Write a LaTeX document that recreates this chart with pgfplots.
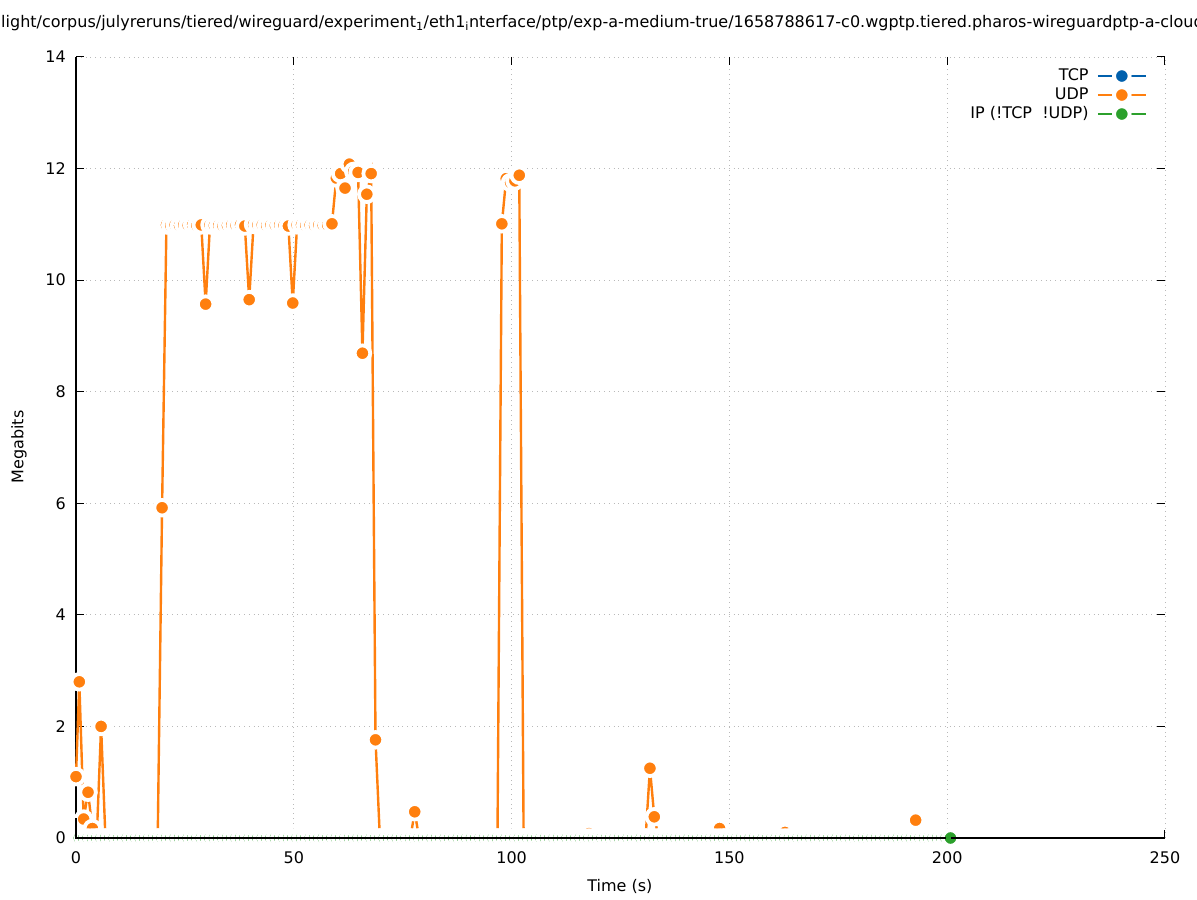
\documentclass[border=0pt]{standalone}
\usepackage{pgfplots}
\pgfplotsset{compat=1.18}
\usepackage{fontspec}
\setmainfont{DejaVu Sans}
\newcommand\gfont{\fontsize{16bp}{19bp}\selectfont}
\definecolor{tcpblue}{HTML}{0060AD}
\definecolor{udporange}{HTML}{FF7F0E}
\definecolor{ipgreen}{HTML}{2CA02C}
\pgfplotsset{ser/.style={line width=2.4bp, color=#1, mark=*, mark size=7.8bp,
  mark options={solid, draw=white, fill=#1, line width=3.8bp}}}
\begin{document}
\begin{tikzpicture}
\begin{axis}[
  set layers=standard,
  at={(0,0)}, anchor=south west, scale only axis, width=1089bp, height=781bp,
  xmin=0, xmax=250, ymin=0, ymax=14,
  xtick={0,50,...,250}, ytick={0,2,...,14},
  clip=false,
  axis line style={draw=none},
  tick align=inside, major tick length=8bp, tick style={black, line width=1bp},
  grid=major, major grid style={gray!55, line width=0.8bp, dash pattern=on 0.8bp off 4bp},
  font=\gfont, ticklabel style={font=\gfont}, /pgf/number format/assume math mode=true,
  xticklabel style={anchor=north, inner sep=0pt, yshift=-13bp},
  yticklabel style={anchor=east, inner sep=0pt, xshift=-10bp},
  xlabel={Time (s)}, ylabel={Megabits},
  xlabel style={at={(axis description cs:0.4995,-0.0615)}, anchor=center, font=\gfont},
  ylabel style={at={(axis description cs:-0.0523,0.5006)}, anchor=center, font=\gfont},
  legend cell align=right, legend plot pos=right,
  legend image code/.code={\draw[mark repeat=2,mark phase=2,#1] plot coordinates {(0bp,0bp) (24bp,0bp) (48bp,0bp)};},
  legend style={draw=none, fill=none, inner sep=0pt, outer sep=0pt, row sep=0pt, column sep=6bp,
    at={(axis description cs:0.9835,0.9878)}, anchor=north east, font=\gfont,
    nodes={inner sep=2bp, text height=11.5bp, text depth=3.5bp}},
]
\addplot[black, line width=1.3bp, mark=none, forget plot] coordinates {(0,0) (0,14)};
\addlegendimage{ser=tcpblue}
\addlegendentry{TCP}
\addplot[ser=udporange] coordinates {
(0,1.10) (0.76,2.80) (1.76,0.34) (2.76,0.82) (3.76,0.17) (4.76,0) (5.76,2.00)
(6.76,0) (7.76,0) (8.76,0) (9.76,0) (10.76,0) (11.76,0) (12.76,0) (13.76,0) (14.76,0)
(15.76,0) (16.76,0) (17.76,0) (18.76,0) (19.76,5.92)
(20.76,10.99) (21.76,10.98) (22.76,10.99) (23.76,10.98) (24.76,10.99) (25.76,10.98)
(26.76,10.99) (27.76,10.98) (28.76,10.99) (29.76,9.57)
(30.76,10.99) (31.76,10.98) (32.76,10.98) (33.76,10.97) (34.76,10.98) (35.76,10.99)
(36.76,10.98) (37.76,10.99) (38.76,10.97) (39.76,9.65)
(40.76,11.00) (41.76,10.99) (42.76,10.99) (43.76,10.98) (44.76,10.99) (45.76,10.98)
(46.76,10.99) (47.76,10.98) (48.76,10.97) (49.76,9.59)
(50.76,10.99) (51.76,10.99) (52.76,10.98) (53.76,10.99) (54.76,10.98) (55.76,10.99)
(56.76,10.98) (57.76,10.99) (58.76,11.01) (59.76,11.83)
(60.76,11.91) (61.76,11.65) (62.76,12.08) (63.76,11.95) (64.76,11.93) (65.76,8.69)
(66.76,11.54) (67.76,11.91) (68.76,1.76) (69.76,0)
(70.76,0) (71.76,0) (72.76,0) (73.76,0) (74.76,0) (75.76,0) (76.76,0) (77.76,0.47) (78.76,0) (79.76,0)
(80.76,0) (81.76,0) (82.76,0) (83.76,0) (84.76,0) (85.76,0) (86.76,0) (87.76,0.05) (88.76,0) (89.76,0)
(90.76,0) (91.76,0) (92.76,0) (93.76,0) (94.76,0) (95.76,0) (96.76,0) (97.76,11.01) (98.76,11.82) (99.76,11.75)
(100.76,11.78) (101.76,11.88) (102.76,0) (103.76,0) (104.76,0) (105.76,0) (106.76,0) (107.76,0) (108.76,0) (109.76,0)
(110.76,0) (111.76,0) (112.76,0) (113.76,0) (114.76,0) (115.76,0) (116.76,0) (117.76,0.08) (118.76,0) (119.76,0)
(120.76,0) (121.76,0) (122.76,0) (123.76,0) (124.76,0) (125.76,0) (126.76,0) (127.76,0) (128.76,0) (129.76,0)
(130.76,0) (131.76,1.25) (132.76,0.38) (133.76,0) (134.76,0) (135.76,0) (136.76,0) (137.76,0) (138.76,0) (139.76,0)
(140.76,0) (141.76,0) (142.76,0) (143.76,0) (144.76,0) (145.76,0) (146.76,0) (147.76,0.17) (148.76,0) (149.76,0)
(150.76,0) (151.76,0) (152.76,0) (153.76,0) (154.76,0) (155.76,0) (156.76,0) (157.76,0) (158.76,0) (159.76,0)
(160.76,0) (161.76,0) (162.76,0.10) (163.76,0) (164.76,0) (165.76,0) (166.76,0) (167.76,0) (168.76,0) (169.76,0)
(170.76,0) (171.76,0) (172.76,0) (173.76,0) (174.76,0) (175.76,0) (176.76,0) (177.76,0) (178.76,0) (179.76,0)
(180.76,0) (181.76,0) (182.76,0) (183.76,0) (184.76,0) (185.76,0) (186.76,0) (187.76,0) (188.76,0) (189.76,0)
(190.76,0) (191.76,0) (192.76,0.32) (193.76,0) (194.76,0) (195.76,0) (196.76,0) (197.76,0) (198.76,0) (199.76,0)
(200.76,0)
};
\addlegendentry{UDP}
\addlegendimage{ser=ipgreen}
\addlegendentry{IP (!TCP\ \ !UDP)}
\addplot[ser=ipgreen, forget plot] coordinates {
(0,0) (0.76,0) (1.76,0) (2.76,0) (3.76,0) (4.76,0) (5.76,0) (6.76,0) (7.76,0) (8.76,0) (9.76,0)
(10.76,0) (11.76,0) (12.76,0) (13.76,0) (14.76,0) (15.76,0) (16.76,0) (17.76,0) (18.76,0) (19.76,0)
(20.76,0) (21.76,0) (22.76,0) (23.76,0) (24.76,0) (25.76,0) (26.76,0) (27.76,0) (28.76,0) (29.76,0)
(30.76,0) (31.76,0) (32.76,0) (33.76,0) (34.76,0) (35.76,0) (36.76,0) (37.76,0) (38.76,0) (39.76,0)
(40.76,0) (41.76,0) (42.76,0) (43.76,0) (44.76,0) (45.76,0) (46.76,0) (47.76,0) (48.76,0) (49.76,0)
(50.76,0) (51.76,0) (52.76,0) (53.76,0) (54.76,0) (55.76,0) (56.76,0) (57.76,0) (58.76,0) (59.76,0)
(60.76,0) (61.76,0) (62.76,0) (63.76,0) (64.76,0) (65.76,0) (66.76,0) (67.76,0) (68.76,0) (69.76,0)
(70.76,0) (71.76,0) (72.76,0) (73.76,0) (74.76,0) (75.76,0) (76.76,0) (77.76,0) (78.76,0) (79.76,0)
(80.76,0) (81.76,0) (82.76,0) (83.76,0) (84.76,0) (85.76,0) (86.76,0) (87.76,0) (88.76,0) (89.76,0)
(90.76,0) (91.76,0) (92.76,0) (93.76,0) (94.76,0) (95.76,0) (96.76,0) (97.76,0) (98.76,0) (99.76,0)
(100.76,0) (101.76,0) (102.76,0) (103.76,0) (104.76,0) (105.76,0) (106.76,0) (107.76,0) (108.76,0) (109.76,0)
(110.76,0) (111.76,0) (112.76,0) (113.76,0) (114.76,0) (115.76,0) (116.76,0) (117.76,0) (118.76,0) (119.76,0)
(120.76,0) (121.76,0) (122.76,0) (123.76,0) (124.76,0) (125.76,0) (126.76,0) (127.76,0) (128.76,0) (129.76,0)
(130.76,0) (131.76,0) (132.76,0) (133.76,0) (134.76,0) (135.76,0) (136.76,0) (137.76,0) (138.76,0) (139.76,0)
(140.76,0) (141.76,0) (142.76,0) (143.76,0) (144.76,0) (145.76,0) (146.76,0) (147.76,0) (148.76,0) (149.76,0)
(150.76,0) (151.76,0) (152.76,0) (153.76,0) (154.76,0) (155.76,0) (156.76,0) (157.76,0) (158.76,0) (159.76,0)
(160.76,0) (161.76,0) (162.76,0) (163.76,0) (164.76,0) (165.76,0) (166.76,0) (167.76,0) (168.76,0) (169.76,0)
(170.76,0) (171.76,0) (172.76,0) (173.76,0) (174.76,0) (175.76,0) (176.76,0) (177.76,0) (178.76,0) (179.76,0)
(180.76,0) (181.76,0) (182.76,0) (183.76,0) (184.76,0) (185.76,0) (186.76,0) (187.76,0) (188.76,0) (189.76,0)
(190.76,0) (191.76,0) (192.76,0) (193.76,0) (194.76,0) (195.76,0) (196.76,0) (197.76,0) (198.76,0) (199.76,0)
};
\addplot[black, line width=1.3bp, mark=none, forget plot, on layer=axis foreground] coordinates {(0,0.35) (0,0) (250,0)};
\addplot[ser=ipgreen, forget plot, on layer=axis foreground] coordinates {(199.76,0) (200.76,0)};
\end{axis}
\node[overlay, anchor=base west, font=\gfont, inner sep=0pt] at (-75bp,810bp)
 {light/corpus/julyreruns/tiered/wireguard/experiment\textsubscript{1}/eth1\textsubscript{i}nterface/ptp/exp-a-medium-true/1658788617-c0.wgptp.tiered.pharos-wireguardptp-a-cloud};
\pgfresetboundingbox
\path[use as bounding box] (-76bp,-62bp) rectangle (1121bp,838bp);
\end{tikzpicture}
\end{document}
